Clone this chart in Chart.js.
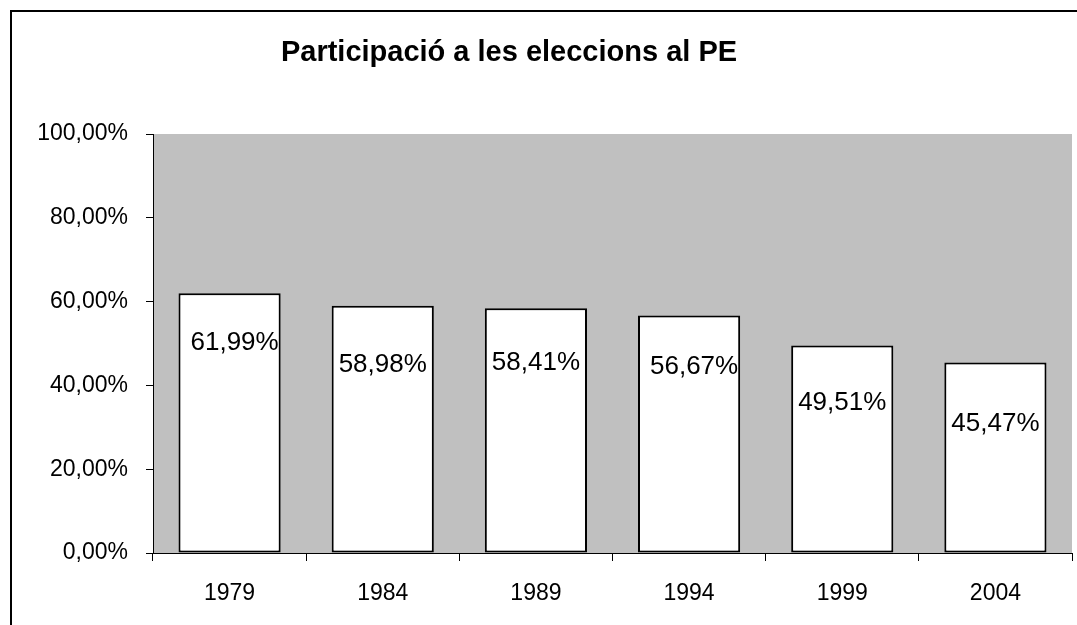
<!DOCTYPE html>
<html>
<head>
<meta charset="utf-8">
<title>Participació a les eleccions al PE</title>
<script src="https://cdn.jsdelivr.net/npm/chart.js@4"></script>
<style>
    html, body { margin: 0; padding: 0; background: #fff; }
    #wrap { width: 1077px; height: 625px; position: relative; }
</style>
</head>
<body>
<div id="wrap"><canvas id="turnoutChart"></canvas></div>
<script>
// Dades del gràfic
const years = ['1979', '1984', '1989', '1994', '1999', '2004'];
const turnout = [61.99, 58.98, 58.41, 56.67, 49.51, 45.47];
const yTicks = [0, 20, 40, 60, 80, 100];

const chartTitle = 'Participació a les eleccions al PE';
const fontFamily = '"Liberation Sans", Arial, sans-serif';

// on va cada etiqueta respecte al cim de la barra (px)
const labelDrop = [50, 59, 55, 51, 57, 61];
const labelShift = [5, 0, 0, 5, 0, 0];

function pct(v) {
    return v.toFixed(2).replace('.', ',') + '%';
}

// fons gris de l'àrea, marc exterior i títol
const excelLook = {
    id: 'excelLook',
    beforeDraw: function (chart) {
        const ctx = chart.ctx;
        const a = chart.chartArea;
        ctx.save();
        ctx.fillStyle = '#c0c0c0';
        ctx.fillRect(a.left, a.top, a.right - a.left, a.bottom - a.top);
        ctx.restore();
    },
    afterDraw: function (chart) {
        const ctx = chart.ctx;
        ctx.save();
        ctx.strokeStyle = '#000';
        ctx.lineWidth = 2;
        ctx.strokeRect(11, 11, 1200, 800);
        ctx.fillStyle = '#000';
        ctx.font = 'bold 29px ' + fontFamily;
        ctx.textAlign = 'center';
        ctx.textBaseline = 'middle';
        ctx.fillText(chartTitle, 509, 53);
        ctx.restore();
    }
};

// etiquetes de valor dins de les barres
const valueLabels = {
    id: 'valueLabels',
    afterDatasetsDraw: function (chart) {
        const ctx = chart.ctx;
        const meta = chart.getDatasetMeta(0);
        ctx.save();
        ctx.fillStyle = '#000';
        ctx.font = '26px ' + fontFamily;
        ctx.textAlign = 'center';
        ctx.textBaseline = 'middle';
        meta.data.forEach(function (bar, i) {
            ctx.fillText(pct(turnout[i]), bar.x + labelShift[i], bar.y + labelDrop[i]);
        });
        ctx.restore();
    }
};

const canvas = document.getElementById('turnoutChart');
canvas.chart = new Chart(canvas.getContext('2d'), {
    type: 'bar',
    data: {
        labels: years,
        datasets: [{
            label: 'Participació',
            data: turnout,
            backgroundColor: '#ffffff',
            borderColor: '#000000',
            borderWidth: 2,
            borderSkipped: false,
            barPercentage: 0.667,
            categoryPercentage: 1
        }]
    },
    options: {
        responsive: true,
        maintainAspectRatio: false,
        animation: false,
        layout: {
            padding: { top: 134, right: 5, bottom: 0, left: 0 }
        },
        plugins: {
            legend: { display: false },
            title: { display: false },
            tooltip: { enabled: false }
        },
        scales: {
            x: {
                offset: true,
                grid: {
                    offset: true,
                    drawOnChartArea: false,
                    drawTicks: true,
                    tickLength: 8,
                    color: '#000'
                },
                border: { display: true, color: '#000', width: 1 },
                ticks: {
                    color: '#000',
                    padding: 19,
                    font: { family: fontFamily, size: 23 }
                },
                afterFit: function (scale) {
                    scale.height = 72;
                }
            },
            y: {
                min: 0,
                max: 100,
                afterBuildTicks: function (scale) {
                    scale.ticks = yTicks.map(function (v) { return { value: v }; });
                },
                grid: {
                    drawOnChartArea: false,
                    drawTicks: true,
                    tickLength: 7,
                    color: '#000'
                },
                border: { display: true, color: '#000', width: 1 },
                ticks: {
                    color: '#000',
                    padding: 18,
                    font: { family: fontFamily, size: 23 },
                    callback: function (value) {
                        return pct(value);
                    }
                },
                afterFit: function (scale) {
                    scale.width = 153;
                }
            }
        }
    },
    plugins: [excelLook, valueLabels]
});
</script>
</body>
</html>
